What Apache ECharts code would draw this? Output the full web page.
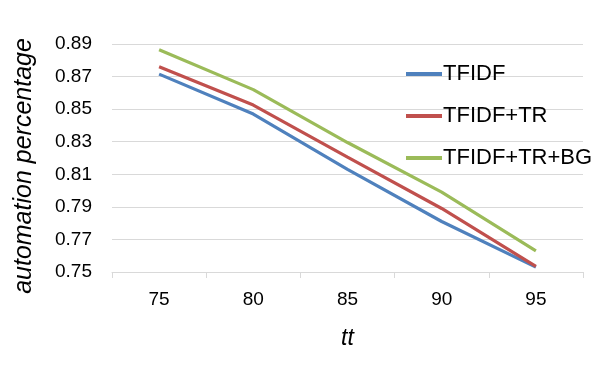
<!DOCTYPE html>
<html>
<head>
<meta charset="utf-8">
<script src="https://cdn.jsdelivr.net/npm/echarts@6/dist/echarts.min.js"></script>
<style>
html, body { margin: 0; padding: 0; background: #fff; }
#chart { width: 608px; height: 365px; }
</style>
</head>
<body>
<div id="chart"></div>
<script>
// values
var categories = ['75', '80', '85', '90', '95'];
var tfidf = [0.8715, 0.847, 0.813, 0.781, 0.753];
var tfidfTr = [0.876, 0.8525, 0.8205, 0.789, 0.7535];
var tfidfTrBg = [0.8865, 0.862, 0.8295, 0.799, 0.763];
var seriesNames = ['TFIDF', 'TFIDF+TR', 'TFIDF+TR+BG'];
var colors = ['#4F81BD', '#C0504D', '#9BBB59'];

var font = 'Liberation Sans';

function lineSeries(name, data, color) {
	return {
		name: name,
		type: 'line',
		data: data,
		showSymbol: false,
		symbol: 'none',
		lineStyle: { color: color, width: 3.2 },
		itemStyle: { color: color },
		animation: false
	};
}

var chart = echarts.init(document.getElementById('chart'));

var option = {
	textStyle: { fontFamily: font },
	grid: { left: 112, right: 25, top: 44, bottom: 93 },
	legend: {
		orient: 'vertical',
		left: 401,
		top: 58,
		itemWidth: 36,
		itemHeight: 4,
		itemGap: 20,
		icon: 'rect',
		data: seriesNames,
		textStyle: { fontFamily: font, fontSize: 22, color: '#000', padding: [0, 0, 0, -4] }
	},
	xAxis: {
		type: 'category',
		data: categories,
		boundaryGap: true,
		name: 'tt',
		nameLocation: 'middle',
		nameGap: 55,
		nameTextStyle: { fontFamily: font, fontSize: 23, fontStyle: 'italic', color: '#000' },
		axisLine: { lineStyle: { color: '#d9d9d9', width: 1 } },
		axisTick: { show: true, length: 6, lineStyle: { color: '#d9d9d9' } },
		axisLabel: { fontFamily: font, fontSize: 19, color: '#000', margin: 18 },
		splitLine: { show: false }
	},
	yAxis: {
		type: 'value',
		min: 0.75,
		max: 0.89,
		interval: 0.02,
		name: 'automation percentage',
		nameLocation: 'middle',
		nameGap: 75,
		nameTextStyle: {
			fontFamily: font, fontSize: 25, fontStyle: 'italic', color: '#000',
			padding: [0, 16, 0, 0]
		},
		axisLine: { show: false },
		axisTick: { show: false },
		axisLabel: {
			fontFamily: font, fontSize: 19, color: '#000', margin: 20,
			formatter: function (v) { return v.toFixed(2); }
		},
		splitLine: { lineStyle: { color: '#d9d9d9', width: 1 } }
	},
	series: [
		lineSeries(seriesNames[0], tfidf, colors[0]),
		lineSeries(seriesNames[1], tfidfTr, colors[1]),
		lineSeries(seriesNames[2], tfidfTrBg, colors[2])
	]
};

chart.setOption(option);
</script>
</body>
</html>
